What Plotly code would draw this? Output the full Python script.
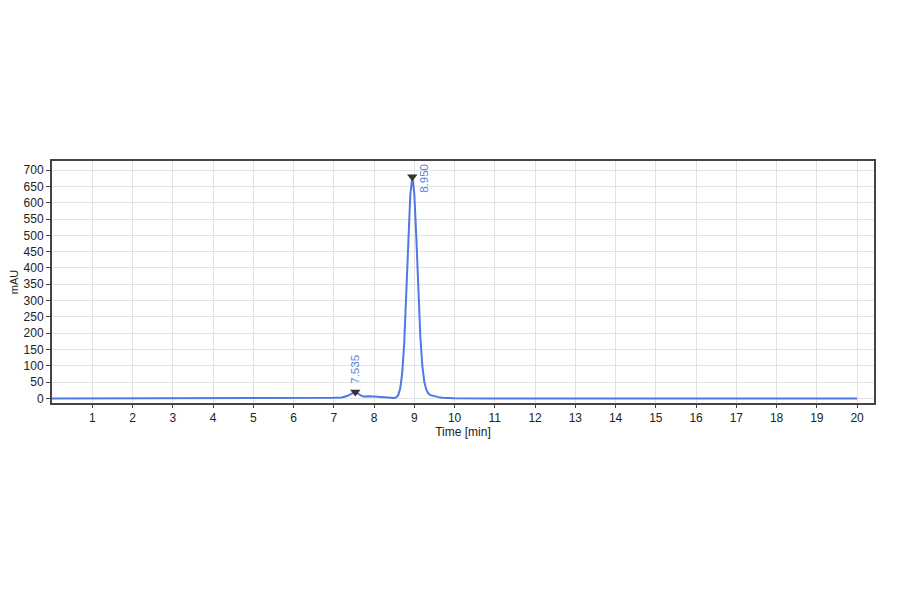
import plotly.graph_objects as go

# chromatogram trace (time in min, signal in mAU)
time_min = [0.0, 1.0, 2.0, 3.0, 4.0, 5.0, 6.0, 6.5, 7.0, 7.2, 7.3, 7.35, 7.4, 7.45,
            7.5, 7.535, 7.55, 7.6, 7.65, 7.7, 7.75, 7.8, 7.9, 8.0, 8.1, 8.2, 8.3,
            8.4, 8.5, 8.55, 8.6, 8.65, 8.7, 8.75, 8.8, 8.85, 8.9, 8.95, 9.0, 9.05,
            9.1, 9.15, 9.2, 9.25, 9.3, 9.35, 9.4, 9.5, 9.6, 9.7, 9.8, 10.0, 11.0,
            12.0, 13.0, 13.3, 13.4, 13.5, 14.0, 15.0, 16.0, 17.0, 18.0, 19.0, 20.0]
signal_mau = [0, 0, 0, 0, 0, 0, 0.5, 1, 2, 3, 5, 8, 12, 16,
              19, 20, 19, 15, 10, 7, 6, 7, 7, 6, 5, 3, 1,
              0.5, 1, 3, 10, 30, 78, 170, 311, 481, 623, 680, 630, 495,
              330, 190, 100, 50, 26, 15, 10, 6, 4, 2, 1, 0.5, 0,
              0, 0, 0.5, 1.5, 0.5, 0, 0, 0, 0, 0, 0, 0]

peak_times = [7.535, 8.950]
peak_heights = [20, 680]
peak_labels = ["7.535", "8.950"]

x_ticks = list(range(1, 21))
y_ticks = list(range(0, 701, 50))

line_blue = "#4f78e2"
label_blue = "#5a80e4"
font_name = "Liberation Sans, Arial, sans-serif"

fig = go.Figure()

# signal
fig.add_trace(go.Scatter(
    x=time_min, y=signal_mau, mode="lines",
    line=dict(color=line_blue, width=2),
    hoverinfo="x+y", showlegend=False,
))

# peak markers
fig.add_trace(go.Scatter(
    x=peak_times, y=peak_heights, mode="markers",
    marker=dict(symbol="triangle-down", color="#333333", size=9),
    showlegend=False,
))

# peak labels, rotated
fig.add_annotation(x=peak_times[0], y=peak_heights[0], text=peak_labels[0],
                   textangle=-90, showarrow=False, yanchor="bottom", yshift=6,
                   font=dict(color=label_blue, size=11.5, family=font_name))
fig.add_annotation(x=peak_times[1], y=728, text=peak_labels[1],
                   textangle=-90, showarrow=False, yanchor="top", xanchor="left",
                   xshift=3, yshift=-1,
                   font=dict(color=label_blue, size=11.5, family=font_name))

# page body has an 8px margin, so pull the margins in by that much
fig.update_layout(
    width=900, height=594,
    margin=dict(l=44, r=34, t=153, b=199),
    paper_bgcolor="white", plot_bgcolor="white",
    font=dict(family=font_name, size=12, color="#222222"),
    showlegend=False,
)

fig.update_xaxes(
    range=[0, 20.42], tickvals=x_ticks, ticktext=[str(v) for v in x_ticks],
    showgrid=True, gridcolor="#e2e2e2", gridwidth=1,
    ticks="outside", ticklen=3, tickcolor="#444444",
    showline=True, linecolor="#444444", linewidth=2, mirror=True,
    zeroline=False, automargin=True,
    title=dict(text="Time [min]", standoff=2, font=dict(size=12)),
)
fig.update_yaxes(
    range=[-14, 728], tickvals=y_ticks,
    showgrid=True, gridcolor="#e2e2e2", gridwidth=1,
    ticks="outside", ticklen=4, tickcolor="#444444",
    showline=True, linecolor="#444444", linewidth=2, mirror=True,
    zeroline=False, automargin=False,
    tickfont=dict(size=12),
    title=dict(text="mAU", font=dict(size=11)),
)

fig.write_html("out.html")
